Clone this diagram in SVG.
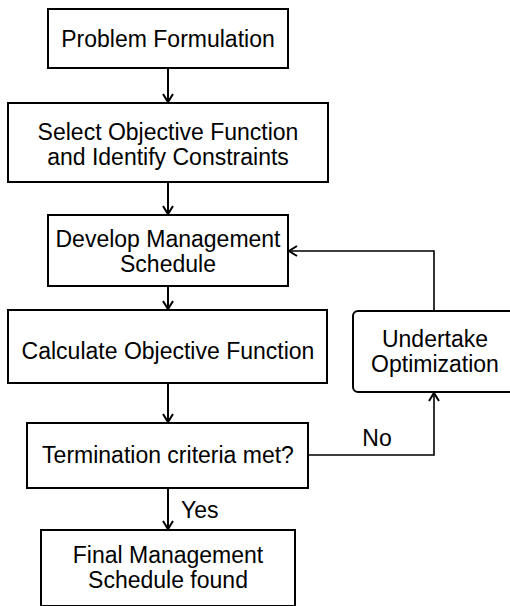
<svg xmlns="http://www.w3.org/2000/svg" width="510" height="606" viewBox="0 0 510 606">
  <style>
    .box { fill: #ffffff; stroke: #000000; stroke-width: 2; }
    .lbl { font-family: "Liberation Sans", Arial, sans-serif; font-size: 23px; fill: #000000; text-anchor: middle; }
    .edge { fill: none; stroke: #000000; stroke-width: 2; }
    .loop { fill: none; stroke: #000000; stroke-width: 1.6; }
  </style>
  <defs>
    <marker id="arrow" markerUnits="userSpaceOnUse" markerWidth="14" markerHeight="14" viewBox="-10 -7 12 14" refX="0" refY="0" orient="auto">
      <path d="M-8,-5 L0,0 L-8,5" fill="none" stroke="#000000" stroke-width="2"/>
    </marker>
  </defs>

  <g id="connectors">
    <line class="edge" x1="168" y1="68" x2="168" y2="102" marker-end="url(#arrow)"/>
    <line class="edge" x1="168" y1="182" x2="168" y2="214" marker-end="url(#arrow)"/>
    <line class="edge" x1="168" y1="286" x2="168" y2="309" marker-end="url(#arrow)"/>
    <line class="edge" x1="168" y1="383" x2="168" y2="422" marker-end="url(#arrow)"/>
    <line class="edge" x1="168" y1="488" x2="168" y2="529" marker-end="url(#arrow)"/>
    <path class="loop" d="M308,455 H434 V393" marker-end="url(#arrow)"/>
    <path class="loop" d="M434,311 V251 H289" marker-end="url(#arrow)"/>
    <text class="lbl" x="377" y="446">No</text>
    <text class="lbl" x="181" y="518" style="text-anchor:start">Yes</text>
  </g>

  <g id="problem-formulation">
    <rect class="box" x="48" y="9" width="240" height="59"/>
    <text class="lbl" x="168" y="47">Problem Formulation</text>
  </g>

  <g id="select-objective">
    <rect class="box" x="8" y="103" width="320" height="79"/>
    <text class="lbl" x="168" y="140">Select Objective Function</text>
    <text class="lbl" x="168" y="165">and Identify Constraints</text>
  </g>

  <g id="develop-schedule">
    <rect class="box" x="48" y="215" width="240" height="71"/>
    <text class="lbl" x="168" y="247">Develop Management</text>
    <text class="lbl" x="168" y="272">Schedule</text>
  </g>

  <g id="calculate-objective">
    <rect class="box" x="8" y="310" width="319" height="73"/>
    <text class="lbl" x="168" y="359">Calculate Objective Function</text>
  </g>

  <g id="termination-check">
    <rect class="box" x="27" y="423" width="281" height="65"/>
    <text class="lbl" x="168" y="463">Termination criteria met?</text>
  </g>

  <g id="final-schedule">
    <rect class="box" x="41" y="530" width="254" height="76"/>
    <text class="lbl" x="168" y="563">Final Management</text>
    <text class="lbl" x="168" y="588">Schedule found</text>
  </g>

  <g id="undertake-optimization">
    <rect class="box" x="353" y="311" width="164" height="81" rx="5" ry="5"/>
    <text class="lbl" x="435" y="347">Undertake</text>
    <text class="lbl" x="435" y="372">Optimization</text>
  </g>
</svg>
